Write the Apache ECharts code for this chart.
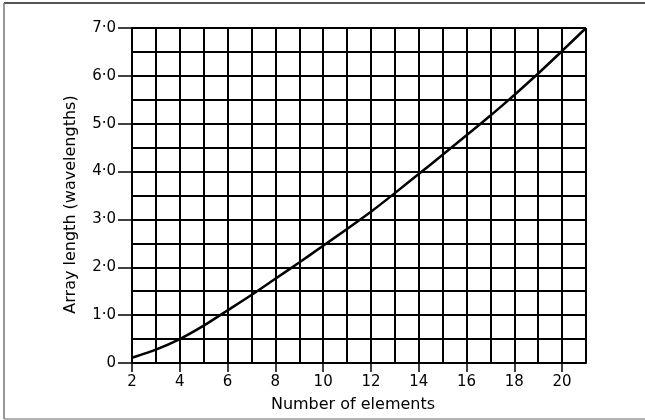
<!DOCTYPE html>
<html>
<head>
<meta charset="utf-8">
<script src="https://cdn.jsdelivr.net/npm/echarts@6/dist/echarts.min.js"></script>
<style>
  html, body { margin: 0; padding: 0; background: #fff; }
  #chart { width: 645px; height: 420px; }
</style>
</head>
<body>
<div id="chart"></div>
<script>
// array length vs number of elements
var elements = [2, 3, 4, 5, 6, 7, 8, 9, 10, 11, 12, 13, 14, 15, 16, 17, 18, 19, 20, 21];
var arrayLength = [0.11, 0.28, 0.5, 0.78, 1.1, 1.42, 1.76, 2.1, 2.45, 2.8, 3.16, 3.55, 3.95, 4.35, 4.76, 5.17, 5.6, 6.05, 6.52, 7.0];
var xTickValues = [2, 4, 6, 8, 10, 12, 14, 16, 18, 20];
var yTickValues = [0, 1, 2, 3, 4, 5, 6, 7];

var chart = echarts.init(document.getElementById("chart"));
var font = "DejaVu Sans";
var gridLine = { show: true, lineStyle: { color: "#000", width: 2 } };

var option = {
  animation: false,
  backgroundColor: "#fff",
  grid: { left: 132, right: 59, top: 28, bottom: 57 },
  graphic: [
    { type: "line", shape: { x1: 4, y1: 3, x2: 645, y2: 3 }, style: { stroke: "#555", lineWidth: 2 } },
    { type: "line", shape: { x1: 4, y1: 3, x2: 4, y2: 419 }, style: { stroke: "#777", lineWidth: 1.5 } },
    { type: "line", shape: { x1: 4, y1: 419, x2: 645, y2: 419 }, style: { stroke: "#999", lineWidth: 1.5 } }
  ],
  xAxis: [
    {
      type: "value",
      min: 2,
      max: 21,
      interval: 1,
      name: "Number of elements",
      nameLocation: "middle",
      nameGap: 34,
      nameTextStyle: { fontFamily: font, fontSize: 16, color: "#000", padding: [0, 12, 0, 0] },
      axisLine: { show: true, lineStyle: { color: "#000", width: 2 } },
      axisTick: { show: true, length: 9, customValues: xTickValues, lineStyle: { color: "#000", width: 1.5 } },
      axisLabel: { margin: 12, customValues: xTickValues, fontFamily: font, fontSize: 15, color: "#000" },
      splitLine: { show: false }
    },
    {
      // grid lines at every element
      type: "value",
      position: "top",
      min: 2,
      max: 21,
      interval: 1,
      axisLine: { show: false },
      axisTick: { show: false },
      axisLabel: { show: false },
      splitLine: gridLine
    }
  ],
  yAxis: [
    {
      type: "value",
      min: 0,
      max: 7,
      interval: 1,
      name: "Array length (wavelengths)",
      nameLocation: "middle",
      nameGap: 53,
      nameTextStyle: { fontFamily: font, fontSize: 16, color: "#000", padding: [0, 18, 0, 0] },
      axisLine: { show: true, lineStyle: { color: "#000", width: 2 } },
      axisTick: { show: true, length: 14, customValues: yTickValues, lineStyle: { color: "#000", width: 1.5 } },
      axisLabel: {
        margin: 16,
        customValues: yTickValues,
        fontFamily: font,
        fontSize: 15,
        color: "#000",
        formatter: function (v) { return v === 0 ? "0" : v.toFixed(1).replace(".", "\u00b7"); }
      },
      splitLine: { show: false }
    },
    {
      // grid lines every half wavelength
      type: "value",
      position: "right",
      min: 0,
      max: 7,
      interval: 0.5,
      axisLine: { show: false },
      axisTick: { show: false },
      axisLabel: { show: false },
      splitLine: gridLine
    }
  ],
  series: [
    {
      type: "line",
      data: elements.map(function (x, i) { return [x, arrayLength[i]]; }),
      smooth: 0.2,
      showSymbol: false,
      lineStyle: { color: "#000", width: 2.5 },
      z: 5
    }
  ]
};
chart.setOption(option);
</script>
</body>
</html>
